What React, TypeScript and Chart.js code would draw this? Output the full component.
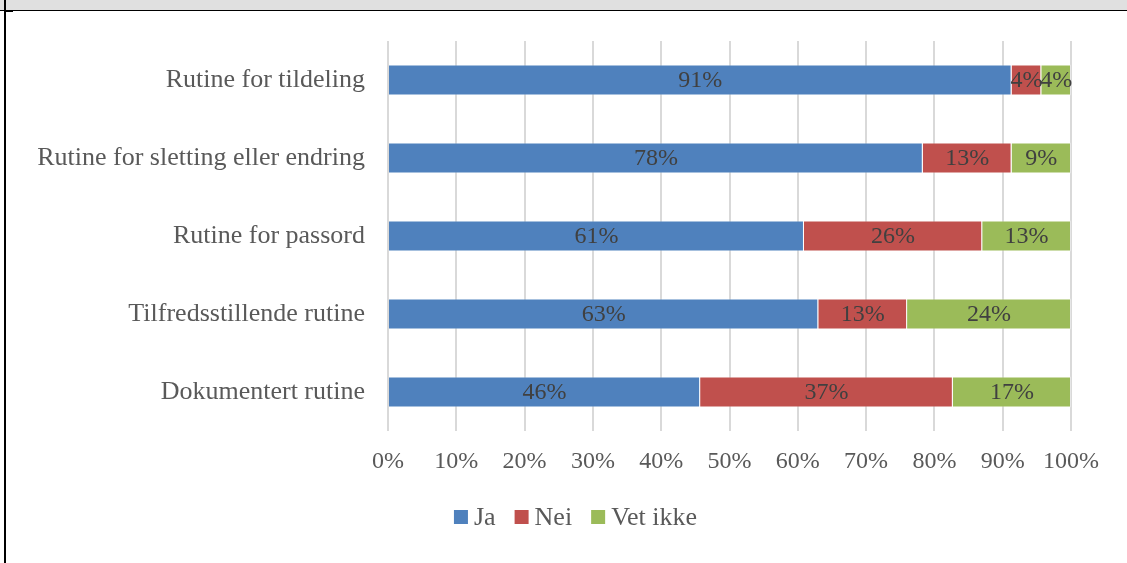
import React, { useEffect, useRef } from "react";
import { Chart, registerables } from "chart.js";

Chart.register(...registerables);

const categories = [
  "Rutine for tildeling",
  "Rutine for sletting eller endring",
  "Rutine for passord",
  "Tilfredsstillende rutine",
  "Dokumentert rutine",
];
const jaValues = [91.3, 78.3, 60.9, 63.0, 45.7];
const neiValues = [4.35, 13.0, 26.1, 13.0, 37.0];
const vetIkkeValues = [4.35, 8.7, 13.0, 24.0, 17.3];
const seriesNames = ["Ja", "Nei", "Vet ikke"];
const seriesColors = ["#4F81BD", "#C0504D", "#9BBB59"];
const xTickStep = 10;

const FONT = "'Liberation Serif', 'Times New Roman', serif";

const dataLabelPlugin = {
  id: "dataLabels",
  afterDatasetsDraw(chart: any) {
    const ctx = chart.ctx;
    ctx.save();
    ctx.font = `24px ${FONT}`;
    ctx.fillStyle = "#404040";
    ctx.textAlign = "center";
    ctx.textBaseline = "middle";
    chart.data.datasets.forEach((ds: any, di: number) => {
      const meta = chart.getDatasetMeta(di);
      meta.data.forEach((el: any, i: number) => {
        const { x, base, y } = el.getProps(["x", "base", "y"], true);
        const v = ds.data[i];
        ctx.fillText(`${Math.round(v)}%`, (x + base) / 2, y + 1);
      });
    });
    ctx.restore();
  },
};

const legendPlugin = {
  id: "customLegend",
  afterDraw(chart: any) {
    const ctx = chart.ctx;
    ctx.save();
    ctx.font = `26px ${FONT}`;
    const box = 14;
    const gap = 6;
    const itemGap = 19;
    const widths = seriesNames.map((n) => ctx.measureText(n).width);
    const total =
      widths.reduce((a, b) => a + b, 0) +
      seriesNames.length * (box + gap) +
      (seriesNames.length - 1) * itemGap;
    let x = chart.width / 2 + 12 - total / 2;
    const cy = 517;
    ctx.textBaseline = "middle";
    ctx.textAlign = "left";
    seriesNames.forEach((n, i) => {
      ctx.fillStyle = seriesColors[i];
      ctx.fillRect(x, cy - box / 2, box, box);
      x += box + gap;
      ctx.fillStyle = "#595959";
      ctx.fillText(n, x, cy + 1);
      x += widths[i] + itemGap;
    });
    ctx.restore();
  },
};

export default function App() {
  const canvasRef = useRef<HTMLCanvasElement | null>(null);

  useEffect(() => {
    if (!canvasRef.current) return;
    const values = [jaValues, neiValues, vetIkkeValues];
    const chart = new Chart(canvasRef.current, {
      type: "bar",
      data: {
        labels: categories,
        datasets: seriesNames.map((name, i) => ({
          label: name,
          data: values[i],
          backgroundColor: seriesColors[i],
          borderColor: "rgba(255,255,255,0.35)",
          borderWidth: 1,
          barPercentage: 0.4,
          categoryPercentage: 1,
        })),
      },
      options: {
        indexAxis: "y",
        animation: false,
        responsive: false,
        maintainAspectRatio: false,
        layout: { padding: { top: 41, left: 0, right: 56, bottom: 82 } },
        plugins: {
          legend: { display: false },
          tooltip: { enabled: false },
          title: { display: false },
        },
        scales: {
          x: {
            stacked: true,
            min: 0,
            max: 100,
            ticks: {
              stepSize: xTickStep,
              callback: (v: any) => `${v}%`,
              color: "#595959",
              font: { family: FONT, size: 24 },
              padding: 16,
            },
            grid: { color: "#d9d9d9", lineWidth: 2, drawTicks: false },
            border: { display: false },
            afterFit: (scale: any) => {
              scale.height = 50;
            },
          },
          y: {
            stacked: true,
            ticks: {
              color: "#595959",
              font: { family: FONT, size: 26 },
              padding: 23,
            },
            grid: { display: false, drawTicks: false },
            border: { display: false },
            afterFit: (scale: any) => {
              scale.width = 388;
            },
          },
        },
      },
      plugins: [dataLabelPlugin, legendPlugin],
    });
    return () => chart.destroy();
  }, []);

  return (
    <div
      style={{
        position: "fixed",
        left: 0,
        top: 0,
        width: 1127,
        height: 563,
        background: "#ffffff",
        overflow: "hidden",
      }}
    >
      <canvas
        ref={canvasRef}
        width={1127}
        height={563}
        style={{ position: "absolute", left: 0, top: 0, width: 1127, height: 563 }}
      />
      <div style={{ position: "absolute", left: 0, top: 0, width: 1127, height: 10, background: "#e0e0e0" }} />
      <div style={{ position: "absolute", left: 0, top: 10, width: 1127, height: 1, background: "#000" }} />
      <div style={{ position: "absolute", left: 4, top: 0, width: 2, height: 563, background: "#000" }} />
      <div style={{ position: "absolute", left: 6, top: 11, width: 7, height: 1, background: "#000" }} />
    </div>
  );
}
